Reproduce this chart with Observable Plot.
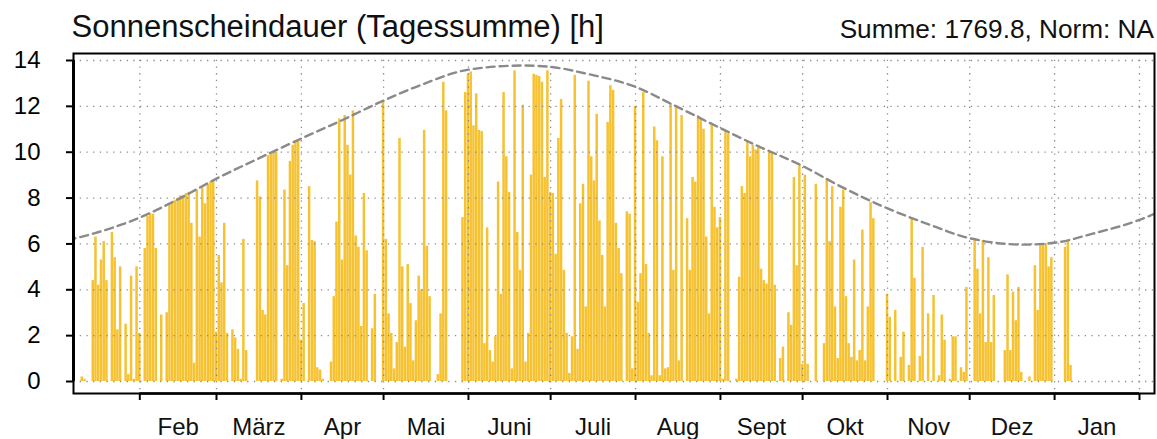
<!DOCTYPE html>
<html><head><meta charset="utf-8">
<script src="https://cdn.jsdelivr.net/npm/d3@7"></script>
<script src="https://cdn.jsdelivr.net/npm/@observablehq/plot@0.6"></script>
<style>
body{margin:0;background:#fff;}
#wrap{position:relative;width:1157px;height:439px;font-family:"Liberation Sans",Arial,Helvetica,sans-serif;}
#title{position:absolute;left:71.5px;top:10.8px;font-size:31px;line-height:1;white-space:nowrap;color:#111;}
#sub{position:absolute;right:3px;top:16px;font-size:26.2px;line-height:1;white-space:nowrap;color:#111;}
#chart{position:absolute;left:0;top:0;}
</style></head><body>
<div id="wrap"><div id="chart"></div><div id="title">Sonnenscheindauer (Tagessumme) [h]</div><div id="sub">Summe: 1769.8, Norm: NA</div></div>
<script>
// daily sunshine duration [h], consecutive days starting at firstDay
const firstDay = "2022-01-11";
const sunJan = [0.2, 0.1, 0, 0, 4.4, 6.3, 4.2, 5.3, 6.1, 4.4, 0, 6.5, 5.4, 2.25, 5.0, 0, 2.5, 0.3, 4.6, 0.1, 5.0];
const sunFeb = [2.1, 0, 5.8, 7.2, 7.3, 7.3, 5.8, 0, 2.9, 0, 3.0, 7.75, 7.8, 7.9, 8.0, 8.1, 8.1, 8.2, 8.25, 6.9, 0.8, 8.35, 6.3, 8.45, 7.75, 8.6, 8.7, 8.75];
const sunMar = [2.15, 5.5, 4.3, 6.9, 2.1, 0, 2.25, 1.9, 1.4, 0.1, 6.2, 1.35, 0, 0, 0, 8.75, 8.05, 3.1, 2.9, 9.85, 9.9, 9.95, 10.0, 0, 0.1, 8.35, 5.05, 9.6, 10.3, 10.5, 10.5];
const sunApr = [1.8, 3.4, 0, 8.5, 6.15, 6.1, 0.6, 0.5, 0.1, 0, 0, 0.85, 3.7, 6.95, 11.45, 5.3, 11.6, 10.3, 9.0, 11.8, 6.35, 5.85, 2.4, 8.2, 5.7, 0, 2.3, 3.8, 0, 0];
const sunMay = [12.25, 6.2, 2.95, 2.1, 0.55, 1.7, 10.6, 5.0, 1.5, 5.1, 3.4, 0.9, 2.65, 4.6, 4.0, 10.95, 5.9, 3.7, 0, 0, 0.3, 2.95, 13.05, 11.8, 0, 0, 0, 0, 0, 7.15, 12.6];
const sunJun = [13.4, 13.5, 11.15, 12.55, 10.95, 10.9, 1.65, 6.7, 1.35, 0.85, 1.95, 8.7, 3.8, 12.6, 9.8, 8.25, 0.55, 13.55, 6.5, 4.85, 12.05, 0.85, 2.1, 9.0, 13.4, 13.35, 13.3, 13.05, 8.9, 13.55];
const sunJul = [8.25, 8.2, 5.55, 10.6, 12.3, 4.85, 2.1, 0.35, 1.95, 13.35, 1.4, 7.75, 8.6, 3.25, 13.1, 9.8, 8.75, 11.65, 7.0, 5.5, 3.25, 11.3, 12.9, 12.7, 6.9, 5.8, 4.7, 0, 7.4, 7.3, 0.55];
const sunAug = [12.0, 3.45, 4.7, 12.6, 5.1, 2.1, 0.25, 11.1, 10.5, 0.25, 9.8, 0.55, 0.6, 12.1, 4.85, 11.95, 0.9, 11.6, 0, 7.1, 4.85, 8.9, 8.7, 11.6, 11.45, 11.0, 6.3, 2.95, 11.25, 7.6, 6.7];
const sunSep = [7.15, 0.1, 10.9, 10.8, 0, 0, 0.1, 4.55, 8.5, 8.2, 10.45, 9.8, 10.3, 10.1, 10.3, 4.9, 4.4, 4.25, 10.0, 10.0, 4.2, 0, 1.0, 1.5, 0, 3.0, 2.45, 8.9, 5.05, 9.4];
const sunOct = [0.75, 9.0, 0.75, 0, 0, 8.6, 0, 0, 1.65, 8.85, 6.1, 8.5, 3.25, 1.0, 7.6, 8.35, 3.7, 1.65, 1.05, 5.3, 0.9, 1.35, 6.6, 0.9, 3.25, 7.8, 7.1, 0, 0, 0, 0];
const sunNov = [3.8, 2.8, 0, 3.1, 0, 1.05, 2.15, 0, 0.7, 7.1, 4.5, 0, 1.1, 5.85, 0, 2.95, 0, 3.75, 0, 0.25, 2.9, 1.8, 0, 0.1, 1.95, 1.95, 0, 0.6, 0.4, 4.1];
const sunDec = [0, 0, 6.2, 4.9, 2.95, 6.15, 1.7, 5.4, 1.7, 3.75, 0, 0, 0, 1.35, 4.65, 1.35, 3.9, 2.65, 4.1, 0.4, 0, 0, 0.2, 0, 5.05, 3.1, 6.0, 6.0, 6.0, 5.0, 5.4];
const sunJan2 = [0, 0, 0, 0, 5.85, 6.1, 0.7];

// astronomically possible maximum (dashed line)
const maxDates = ["2022-01-01","2022-01-15","2022-02-01","2022-02-15","2022-03-01","2022-03-15","2022-04-01","2022-04-15","2022-05-01","2022-05-15","2022-06-01","2022-06-21","2022-07-01","2022-07-15","2022-08-01","2022-08-15","2022-09-01","2022-09-15","2022-10-01","2022-10-15","2022-11-01","2022-11-15","2022-12-01","2022-12-21","2023-01-01","2023-01-15","2023-02-01","2023-02-10"];
const maxValues = [6.05,6.45,7.15,7.95,8.85,9.65,10.6,11.35,12.25,12.95,13.6,13.78,13.72,13.4,12.85,12.05,11.05,10.25,9.4,8.5,7.55,6.9,6.25,5.97,6.05,6.45,7.05,7.5];

const monthStarts = ["2022-02-01","2022-03-01","2022-04-01","2022-05-01","2022-06-01","2022-07-01","2022-08-01","2022-09-01","2022-10-01","2022-11-01","2022-12-01","2023-01-01","2023-02-01"];
const monthLabels = ["Feb","März","Apr","Mai","Juni","Juli","Aug","Sept","Okt","Nov","Dez","Jan"];
const yTicks = [0, 2, 4, 6, 8, 10, 12, 14];

const DAY = 864e5;
const t0 = Date.parse(firstDay + "T00:00:00Z");
const values = [sunJan, sunFeb, sunMar, sunApr, sunMay, sunJun, sunJul, sunAug, sunSep, sunOct, sunNov, sunDec, sunJan2].flat();
const daily = values.map((v, i) => ({date: new Date(t0 + i * DAY), v}));
const maxLine = maxDates.map((d, i) => ({date: new Date(d + "T00:00:00Z"), v: maxValues[i]}));
const starts = monthStarts.map(d => new Date(d + "T00:00:00Z"));
const mids = monthLabels.map((l, i) => ({date: new Date((+starts[i] + +starts[i + 1]) / 2), label: l}));

const chart = Plot.plot({
  width: 1157, height: 439,
  marginLeft: 73, marginRight: 3, marginTop: 53, marginBottom: 46,
  style: {fontFamily: "Liberation Sans, Arial, Helvetica, sans-serif", fontSize: "24px", background: "#fff", color: "#000", overflow: "visible"},
  x: {type: "utc", domain: [new Date("2022-01-07T19:00:00Z"), new Date("2023-02-06T11:30:00Z")], label: null},
  y: {domain: [-0.523, 14.305], label: null},
  marks: [
    Plot.rectY(daily, {x1: d => new Date(+d.date - DAY / 2), x2: d => new Date(+d.date + DAY / 2), y: "v", fill: "#f6c232", insetLeft: 0.12, insetRight: 0.12, shapeRendering: "auto"}),
    Plot.gridY(yTicks, {stroke: "#7a7f8a", strokeOpacity: 0.9, strokeWidth: 1.3, strokeDasharray: "1.3,5.4"}),
    Plot.gridX(starts, {stroke: "#7a7f8a", strokeOpacity: 0.9, strokeWidth: 1.3, strokeDasharray: "1.3,5.4"}),
    Plot.line(maxLine, {x: "date", y: "v", stroke: "#8a8a8a", strokeWidth: 2.4, strokeDasharray: "8,5", curve: "monotone-x", clip: "frame"}),
    Plot.frame({stroke: "#000", strokeWidth: 2}),
    Plot.ruleX([new Date("2022-01-07T19:00:00Z")], {y1: 0, y2: 14, stroke: "#000", strokeWidth: 3}),
    Plot.ruleY([-0.523], {x1: starts[0], x2: starts[starts.length - 1], stroke: "#000", strokeWidth: 2.6}),
    Plot.axisY(yTicks, {tickSize: 7, tickPadding: 26, strokeWidth: 2, fontSize: 24, tickFormat: d => String(d)}),
    Plot.axisX(starts, {tickSize: 7, strokeWidth: 2, tickFormat: () => ""}),
    Plot.text(mids, {x: "date", text: "label", frameAnchor: "bottom", lineAnchor: "top", dy: 24.5, fontSize: 24, fill: "#111"})
  ]
});
document.getElementById("chart").appendChild(chart);
</script></body></html>
